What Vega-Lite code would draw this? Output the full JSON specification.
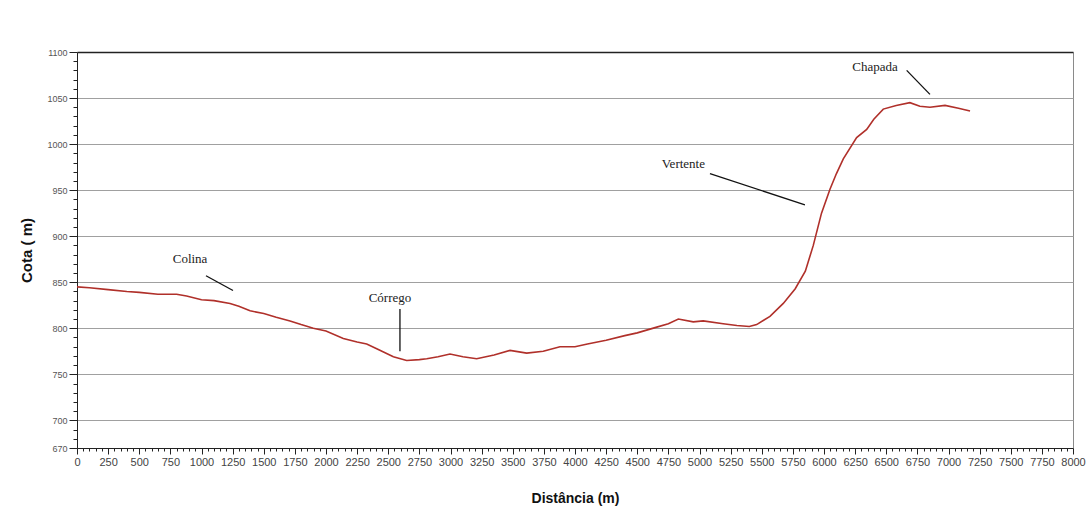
{
  "$schema": "https://vega.github.io/schema/vega-lite/v6.json",
  "autosize": "none",
  "width": 996,
  "height": 396,
  "padding": {"left": 77, "top": 52, "right": 18, "bottom": 63},
  "background": "white",
  "config": {
    "view": {"stroke": null},
    "axis": {"labelFont": "Liberation Sans", "titleFont": "Liberation Sans", "domainColor": "#222", "tickColor": "#222"}
  },
  "datasets": {
    "profile": [
      {"d": 0, "z": 845}, {"d": 100, "z": 844}, {"d": 250, "z": 842}, {"d": 400, "z": 840},
      {"d": 500, "z": 839}, {"d": 650, "z": 837}, {"d": 800, "z": 837}, {"d": 880, "z": 835},
      {"d": 1000, "z": 831}, {"d": 1100, "z": 830}, {"d": 1229, "z": 827}, {"d": 1300, "z": 824},
      {"d": 1390, "z": 819}, {"d": 1500, "z": 816}, {"d": 1600, "z": 812}, {"d": 1711, "z": 808},
      {"d": 1800, "z": 804}, {"d": 1898, "z": 800}, {"d": 2000, "z": 797}, {"d": 2139, "z": 789},
      {"d": 2250, "z": 785}, {"d": 2327, "z": 783}, {"d": 2420, "z": 777}, {"d": 2541, "z": 769},
      {"d": 2648, "z": 765}, {"d": 2750, "z": 766}, {"d": 2809, "z": 767}, {"d": 2900, "z": 769},
      {"d": 2996, "z": 772}, {"d": 3100, "z": 769}, {"d": 3210, "z": 767}, {"d": 3350, "z": 771},
      {"d": 3478, "z": 776}, {"d": 3612, "z": 773}, {"d": 3745, "z": 775}, {"d": 3879, "z": 780},
      {"d": 4000, "z": 780}, {"d": 4100, "z": 783}, {"d": 4250, "z": 787}, {"d": 4400, "z": 792},
      {"d": 4500, "z": 795}, {"d": 4650, "z": 801}, {"d": 4750, "z": 805}, {"d": 4830, "z": 810},
      {"d": 4950, "z": 807}, {"d": 5030, "z": 808}, {"d": 5190, "z": 805}, {"d": 5300, "z": 803},
      {"d": 5400, "z": 802}, {"d": 5459, "z": 804}, {"d": 5566, "z": 813}, {"d": 5673, "z": 827},
      {"d": 5769, "z": 843}, {"d": 5850, "z": 862}, {"d": 5914, "z": 890}, {"d": 5980, "z": 925},
      {"d": 6048, "z": 951}, {"d": 6100, "z": 968}, {"d": 6155, "z": 984}, {"d": 6262, "z": 1007},
      {"d": 6343, "z": 1016}, {"d": 6400, "z": 1027}, {"d": 6476, "z": 1038}, {"d": 6580, "z": 1042},
      {"d": 6690, "z": 1045}, {"d": 6770, "z": 1041}, {"d": 6851, "z": 1040}, {"d": 6972, "z": 1042},
      {"d": 7080, "z": 1039}, {"d": 7173, "z": 1036}
    ],
    "labels": [
      {"label": "Colina", "d": 908, "z": 875, "d1": 1036, "z1": 857, "d2": 1253, "z2": 841},
      {"label": "Córrego", "d": 2514, "z": 833, "d1": 2594, "z1": 821, "d2": 2594, "z2": 775},
      {"label": "Vertente", "d": 4870, "z": 978, "d1": 5084, "z1": 968, "d2": 5847, "z2": 934},
      {"label": "Chapada", "d": 6410, "z": 1084, "d1": 6664, "z1": 1080, "d2": 6851, "z2": 1054}
    ]
  },
  "layer": [
    {
      "data": {"name": "profile"},
      "mark": {"type": "line", "color": "#b0302a", "strokeWidth": 1.6},
      "encoding": {
        "x": {
          "field": "d", "type": "quantitative",
          "scale": {"domain": [0, 8000], "nice": false, "zero": false},
          "axis": {
            "title": "Distância (m)", "titleFontSize": 14, "titleFontWeight": "bold", "titleColor": "#111", "titlePadding": 24,
            "tickCount": 400,
            "values": [0,50,100,150,200,250,300,350,400,450,500,550,600,650,700,750,800,850,900,950,1000,1050,1100,1150,1200,1250,1300,1350,1400,1450,1500,1550,1600,1650,1700,1750,1800,1850,1900,1950,2000,2050,2100,2150,2200,2250,2300,2350,2400,2450,2500,2550,2600,2650,2700,2750,2800,2850,2900,2950,3000,3050,3100,3150,3200,3250,3300,3350,3400,3450,3500,3550,3600,3650,3700,3750,3800,3850,3900,3950,4000,4050,4100,4150,4200,4250,4300,4350,4400,4450,4500,4550,4600,4650,4700,4750,4800,4850,4900,4950,5000,5050,5100,5150,5200,5250,5300,5350,5400,5450,5500,5550,5600,5650,5700,5750,5800,5850,5900,5950,6000,6050,6100,6150,6200,6250,6300,6350,6400,6450,6500,6550,6600,6650,6700,6750,6800,6850,6900,6950,7000,7050,7100,7150,7200,7250,7300,7350,7400,7450,7500,7550,7600,7650,7700,7750,7800,7850,7900,7950,8000],
            "labelExpr": "datum.value % 250 === 0 ? datum.value : ''",
            "labelFontSize": 11, "labelColor": "#444", "labelPadding": 2, "labelOverlap": false, "labelFlush": false,
            "tickSize": {"condition": {"test": "datum.value % 250 === 0", "value": 6}, "value": 3},
            "grid": true,
            "gridColor": "#8a8a8a",
            "gridOpacity": {"condition": {"test": "datum.value === 8000", "value": 1}, "value": 0},
            "domainColor": "#222"
          }
        },
        "y": {
          "field": "z", "type": "quantitative",
          "scale": {"domain": [670, 1100], "nice": false, "zero": false},
          "axis": {
            "title": "Cota ( m)", "titleFontSize": 15, "titleFontWeight": "bold", "titleColor": "#111", "titlePadding": 12,
            "tickCount": 200,
            "values": [670,680,690,700,710,720,730,740,750,760,770,780,790,800,810,820,830,840,850,860,870,880,890,900,910,920,930,940,950,960,970,980,990,1000,1010,1020,1030,1040,1050,1060,1070,1080,1090,1100],
            "labelExpr": "(datum.value % 50 === 0 || datum.value === 670) ? datum.value : ''",
            "labelFontSize": 9, "labelColor": "#555", "labelPadding": 2, "labelOverlap": false, "labelFlush": false,
            "tickSize": {"condition": {"test": "datum.value % 50 === 0 || datum.value === 670", "value": 8}, "value": 4},
            "grid": true,
            "gridColor": {"condition": {"test": "datum.value === 1100", "value": "#222"}, "value": "#a0a0a0"},
            "gridOpacity": {"condition": {"test": "datum.value % 50 === 0 && datum.value > 670", "value": 1}, "value": 0},
            "gridWidth": {"condition": {"test": "datum.value === 1100", "value": 1.3}, "value": 1},
            "domainColor": "#222"
          }
        }
      }
    },
    {
      "data": {"name": "labels"},
      "mark": {"type": "rule", "color": "#111", "strokeWidth": 1.3},
      "encoding": {
        "x": {"field": "d1", "type": "quantitative"},
        "y": {"field": "z1", "type": "quantitative"},
        "x2": {"field": "d2"},
        "y2": {"field": "z2"}
      }
    },
    {
      "data": {"name": "labels"},
      "mark": {"type": "text", "font": "Liberation Serif", "fontSize": 13, "color": "#222", "align": "center", "baseline": "middle"},
      "encoding": {
        "x": {"field": "d", "type": "quantitative"},
        "y": {"field": "z", "type": "quantitative"},
        "text": {"field": "label"}
      }
    }
  ]
}
